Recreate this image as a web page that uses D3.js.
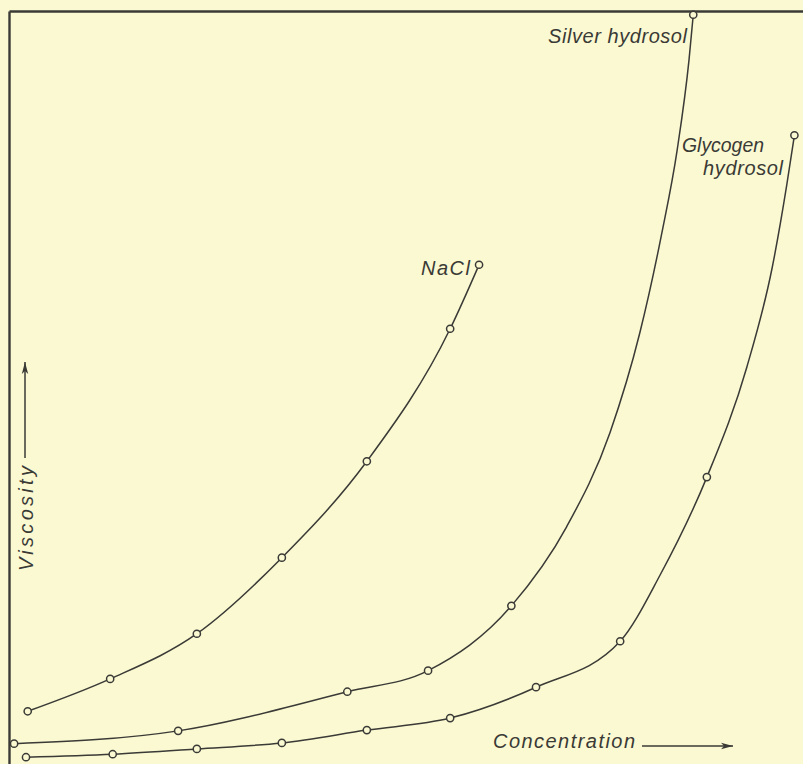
<!DOCTYPE html>
<html>
<head>
<meta charset="utf-8">
<script src="https://cdn.jsdelivr.net/npm/d3@7"></script>
<style>
  html, body { margin: 0; padding: 0; background: #fbf9d2; }
  svg { display: block; }
  text { font-family: "Liberation Sans", Arial, sans-serif; font-style: italic; fill: #3a3a36; }
</style>
</head>
<body>
<svg id="chart" width="803" height="764"></svg>
<script>
// ---- Data (concentration in arbitrary units, viscosity in arbitrary units) ----
const naclConc      = [0.22, 1.19, 2.21, 3.21, 4.21, 5.19, 5.53];
const naclVisc      = [7.0, 11.3, 17.3, 27.4, 40.2, 57.8, 66.3];

const silverConc    = [0.06, 1.99, 3.98, 4.93, 5.91, 8.05];
const silverVisc    = [2.7, 4.4, 9.6, 12.4, 21.0, 99.5];
// points read along the drawn silver curve between the last two measured points
const silverTraceConc = [6.56, 7.07, 7.42, 7.68, 7.86, 8.00];
const silverTraceVisc = [31.5, 44.0, 57.2, 70.5, 81.5, 93.5];

const glycoConc     = [0.20, 1.22, 2.21, 3.21, 4.21, 5.19, 6.20, 7.19, 8.21, 9.24];
const glycoVisc     = [0.9, 1.3, 2.0, 2.8, 4.5, 6.1, 10.2, 16.3, 38.1, 83.5];
// points read along the drawn glycogen curve between measured points
const glycoTraceConc = [7.66, 8.68, 8.98, 9.15];
const glycoTraceVisc = [25.1, 52.7, 66.0, 76.9];

const seriesNames = ["NaCl", "Silver hydrosol", "Glycogen hydrosol"];
const xTitle = "Concentration";
const yTitle = "Viscosity";

(function () {
// ---- Layout ----
const W = 803, H = 764;
const mLeft = 9, mTop = 11, mRight = 803, mBottom = 764;
const ink = "#3a3a36";
const bg = "#fbf9d2";

const svg = d3.select("#chart");
svg.append("rect").attr("width", W).attr("height", H).attr("fill", bg);

const x = d3.scaleLinear().domain([0, 9.341]).range([mLeft, mRight]);
const y = d3.scaleLinear().domain([0, 100]).range([mBottom, mTop]);

// frame: top and left lines via axes with no ticks
svg.append("g").attr("transform", `translate(0,${mTop})`)
  .call(d3.axisTop(x).tickValues([]).tickSizeOuter(0));
svg.append("g").attr("transform", `translate(${mLeft},0)`)
  .call(d3.axisLeft(y).tickValues([]).tickSizeOuter(0));
svg.selectAll(".domain").attr("stroke", ink).attr("stroke-width", 2.4);

function merge(cx, cy, tx, ty) {
  const pts = cx.map((c, i) => ({c, v: cy[i]}));
  if (tx) tx.forEach((c, i) => pts.push({c, v: ty[i]}));
  pts.sort((a, b) => a.c - b.c);
  return pts;
}

const line = d3.line()
  .x(d => x(d.c)).y(d => y(d.v))
  .curve(d3.curveMonotoneX);

const series = [
  {name: seriesNames[0], pts: merge(naclConc, naclVisc), mk: merge(naclConc, naclVisc)},
  {name: seriesNames[1], pts: merge(silverConc, silverVisc, silverTraceConc, silverTraceVisc), mk: merge(silverConc, silverVisc)},
  {name: seriesNames[2], pts: merge(glycoConc, glycoVisc, glycoTraceConc, glycoTraceVisc), mk: merge(glycoConc, glycoVisc)}
];

series.forEach(s => {
  svg.append("path").datum(s.pts)
    .attr("d", line)
    .attr("fill", "none")
    .attr("stroke", ink)
    .attr("stroke-width", 1.5);
});
series.forEach(s => {
  svg.append("g").selectAll("circle").data(s.mk).join("circle")
    .attr("cx", d => x(d.c)).attr("cy", d => y(d.v))
    .attr("r", 3.6)
    .attr("fill", bg)
    .attr("stroke", ink)
    .attr("stroke-width", 1.5);
});

// series labels
const fs = 20;
svg.append("text").attr("x", 548).attr("y", 43)
  .attr("font-size", fs).attr("textLength", 139).attr("lengthAdjust", "spacing").text(seriesNames[1]);
svg.append("text").attr("x", 682).attr("y", 152)
  .attr("font-size", fs).attr("textLength", 82).attr("lengthAdjust", "spacingAndGlyphs").text("Glycogen");
svg.append("text").attr("x", 703).attr("y", 175)
  .attr("font-size", fs).attr("textLength", 80).attr("lengthAdjust", "spacing").text("hydrosol");
svg.append("text").attr("x", 421).attr("y", 275)
  .attr("font-size", fs).attr("textLength", 49).attr("lengthAdjust", "spacing").text(seriesNames[0]);

// axis titles with arrows
const defs = svg.append("defs");
defs.append("marker").attr("id", "arrow")
  .attr("viewBox", "0 0 12 8").attr("refX", 12).attr("refY", 4)
  .attr("markerWidth", 12).attr("markerHeight", 8).attr("markerUnits", "userSpaceOnUse")
  .attr("orient", "auto")
  .append("path").attr("d", "M0,0.8 L12,4 L0,7.2 L3,4 Z").attr("fill", ink);

svg.append("text").attr("x", 493).attr("y", 748)
  .attr("font-size", fs).attr("textLength", 142).attr("lengthAdjust", "spacing").text(xTitle);
svg.append("line").attr("x1", 642).attr("y1", 746).attr("x2", 733).attr("y2", 746)
  .attr("stroke", ink).attr("stroke-width", 1.5).attr("marker-end", "url(#arrow)");

svg.append("text").attr("transform", "translate(33,571) rotate(-90)")
  .attr("font-size", fs).attr("textLength", 105).attr("lengthAdjust", "spacing").text(yTitle);
svg.append("line").attr("x1", 25).attr("y1", 458).attr("x2", 25).attr("y2", 362)
  .attr("stroke", ink).attr("stroke-width", 1.5).attr("marker-end", "url(#arrow)");
})();
</script>
</body>
</html>
